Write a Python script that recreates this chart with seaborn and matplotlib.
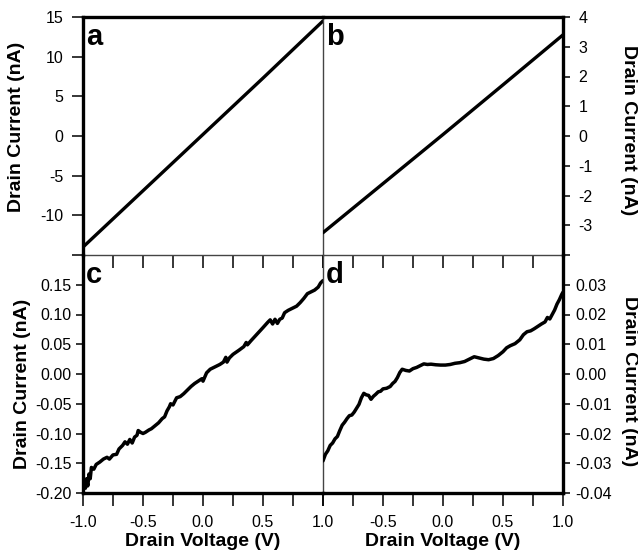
import numpy as np
import pandas as pd
import matplotlib
matplotlib.use('Agg')
import matplotlib.pyplot as plt
import seaborn as sns

# panel a / b: straight I-V traces
volt_a = [-1.0, -0.5, 0.0, 0.5, 1.0]
curr_a = [-14.0, -6.9, 0.2, 7.3, 14.5]
volt_b = [-1.0, -0.5, 0.0, 0.5, 1.0]
curr_b = [-3.25, -1.6, 0.05, 1.72, 3.40]

# panel c: noisy, nearly linear
volt_c = [-1.00, -0.99, -0.98, -0.97, -0.96, -0.95, -0.94, -0.93, -0.91, -0.89,
          -0.86, -0.83, -0.80, -0.78, -0.75, -0.72, -0.70, -0.67, -0.65, -0.63,
          -0.61, -0.59, -0.57, -0.55, -0.54, -0.52, -0.50, -0.48, -0.45, -0.43,
          -0.40, -0.37, -0.34, -0.32, -0.30, -0.28, -0.27, -0.25, -0.22, -0.19,
          -0.16, -0.13, -0.10, -0.07, -0.04, -0.01, 0.00, 0.03, 0.06, 0.10,
          0.14, 0.17, 0.19, 0.20, 0.22, 0.25, 0.30, 0.34, 0.36, 0.37,
          0.40, 0.45, 0.50, 0.54, 0.56, 0.58, 0.60, 0.62, 0.64, 0.66,
          0.68, 0.71, 0.74, 0.78, 0.81, 0.84, 0.87, 0.90, 0.93, 0.96,
          0.98, 1.00]
curr_c = [-0.185, -0.178, -0.192, -0.176, -0.188, -0.168, -0.176, -0.157, -0.160, -0.152,
          -0.148, -0.143, -0.140, -0.143, -0.136, -0.135, -0.126, -0.120, -0.114, -0.118,
          -0.110, -0.116, -0.106, -0.103, -0.095, -0.098, -0.100, -0.098, -0.094, -0.092,
          -0.087, -0.082, -0.075, -0.072, -0.062, -0.055, -0.050, -0.052, -0.040, -0.038,
          -0.033, -0.027, -0.021, -0.016, -0.012, -0.008, -0.012, 0.002, 0.008, 0.012,
          0.016, 0.020, 0.028, 0.020, 0.027, 0.033, 0.040, 0.046, 0.053, 0.049,
          0.056, 0.067, 0.078, 0.087, 0.091, 0.084, 0.092, 0.085, 0.092, 0.094,
          0.103, 0.107, 0.110, 0.114, 0.120, 0.127, 0.135, 0.138, 0.141, 0.146,
          0.153, 0.157]

# panel d: noisy, nonlinear with plateau
volt_d = [-1.00, -0.98, -0.96, -0.94, -0.92, -0.90, -0.88, -0.86, -0.84, -0.82,
          -0.80, -0.78, -0.76, -0.74, -0.72, -0.70, -0.68, -0.66, -0.64, -0.62,
          -0.60, -0.58, -0.56, -0.54, -0.52, -0.50, -0.47, -0.44, -0.42, -0.40,
          -0.38, -0.36, -0.34, -0.31, -0.28, -0.25, -0.22, -0.19, -0.16, -0.13,
          -0.10, -0.06, -0.02, 0.02, 0.06, 0.10, 0.14, 0.18, 0.22, 0.26,
          0.30, 0.34, 0.38, 0.42, 0.46, 0.50, 0.53, 0.56, 0.60, 0.64,
          0.67, 0.70, 0.73, 0.76, 0.79, 0.82, 0.85, 0.87, 0.89, 0.91,
          0.93, 0.95, 0.97, 0.99, 1.00]
curr_d = [-0.0292, -0.0270, -0.0258, -0.0240, -0.0232, -0.0218, -0.0210, -0.0190, -0.0172, -0.0162,
          -0.0150, -0.0140, -0.0138, -0.0128, -0.0115, -0.0102, -0.0080, -0.0065, -0.0070, -0.0072,
          -0.0085, -0.0075, -0.0068, -0.0060, -0.0058, -0.0050, -0.0048, -0.0042, -0.0032, -0.0025,
          -0.0012, 0.0005, 0.0016, 0.0012, 0.0010, 0.0018, 0.0022, 0.0028, 0.0034, 0.0032,
          0.0033, 0.0031, 0.0030, 0.0030, 0.0032, 0.0036, 0.0038, 0.0042, 0.0050, 0.0058,
          0.0054, 0.0050, 0.0048, 0.0052, 0.0062, 0.0075, 0.0088, 0.0095, 0.0102, 0.0115,
          0.0132, 0.0142, 0.0145, 0.0152, 0.0160, 0.0168, 0.0175, 0.0190, 0.0185, 0.0200,
          0.0215, 0.0235, 0.0250, 0.0268, 0.0275]

yticks_a = [-15, -10, -5, 0, 5, 10, 15]
ylabels_a = ['', '-10', '-5', '0', '5', '10', '15']
yticks_b = [-4, -3, -2, -1, 0, 1, 2, 3, 4]
ylabels_b = ['', '-3', '-2', '-1', '0', '1', '2', '3', '4']
yticks_c = [-0.20, -0.15, -0.10, -0.05, 0.00, 0.05, 0.10, 0.15]
ylabels_c = ['-0.20', '-0.15', '-0.10', '-0.05', '0.00', '0.05', '0.10', '0.15']
yticks_d = [-0.04, -0.03, -0.02, -0.01, 0.00, 0.01, 0.02, 0.03]
ylabels_d = ['-0.04', '-0.03', '-0.02', '-0.01', '0.00', '0.01', '0.02', '0.03']
xticks = [-1.0, -0.75, -0.5, -0.25, 0.0, 0.25, 0.5, 0.75, 1.0]
xlabels_left = ['-1.0', '', '-0.5', '', '0.0', '', '0.5', '', '1.0']
xlabels_right = ['', '', '-0.5', '', '0.0', '', '0.5', '', '1.0']

sns.set_theme(style='ticks')
plt.rcParams['font.family'] = ['Liberation Sans', 'DejaVu Sans']
plt.rcParams['text.color'] = 'black'
plt.rcParams['xtick.color'] = 'black'
plt.rcParams['ytick.color'] = 'black'
plt.rcParams['xtick.labelcolor'] = 'black'
plt.rcParams['ytick.labelcolor'] = 'black'

fig = plt.figure(figsize=(6.38, 5.51), dpi=100)
L, M, R = 83 / 638, 323 / 638, 563 / 638
T, H, B = 1 - 17 / 551, 1 - 255 / 551, 1 - 493 / 551
ax_a = fig.add_axes([L, H, M - L, T - H])
ax_b = fig.add_axes([M, H, R - M, T - H])
ax_c = fig.add_axes([L, B, M - L, H - B])
ax_d = fig.add_axes([M, B, R - M, H - B])

panels = [
    (ax_a, volt_a, curr_a, (-15, 15), yticks_a, ylabels_a, 'a', 2.4),
    (ax_b, volt_b, curr_b, (-4, 4), yticks_b, ylabels_b, 'b', 2.4),
    (ax_c, volt_c, curr_c, (-0.2, 0.2), yticks_c, ylabels_c, 'c', 2.5),
    (ax_d, volt_d, curr_d, (-0.04, 0.04), yticks_d, ylabels_d, 'd', 2.5),
]

tick_fs = 11.5
thick, thin = 2.4, 1.0
for ax, x, y, ylim, yt, yl, letter, lw in panels:
    ax.set_facecolor('none')
    sns.lineplot(x=x, y=y, ax=ax, color='black', lw=lw, sort=False, estimator=None)
    ax.set_xlim(-1, 1)
    ax.set_ylim(*ylim)
    ax.set_yticks(yt)
    ax.set_yticklabels(yl, fontsize=tick_fs)
    ax.set_xticks(xticks)
    ax.set_xlabel('')
    ax.set_ylabel('')
    ax.text(0.012, 0.975, letter, transform=ax.transAxes, fontsize=21,
            fontweight='bold', ha='left', va='top')
    for s in ax.spines.values():
        s.set_color('black')
        s.set_linewidth(thin)
        s.set_zorder(5)
    ax.tick_params(axis='x', direction='out', length=9, width=1.1, color='black')
    ax.tick_params(axis='y', direction='out', width=1.1, color='black')

# top row
for ax in (ax_a, ax_b):
    ax.spines['top'].set_linewidth(thick)
    ax.tick_params(axis='x', labelbottom=False)
    ax.spines['bottom'].set_color('#444444')
ax_a.spines['right'].set_color('#444444')
ax_b.spines['left'].set_visible(False)
# bottom row
for ax, labs in ((ax_c, xlabels_left), (ax_d, xlabels_right)):
    ax.spines['bottom'].set_linewidth(thick)
    ax.spines['top'].set_visible(False)
    ax.set_xticklabels(labs, fontsize=tick_fs)
    ax.tick_params(axis='x', pad=7)
    ax.text(0.5, -0.205, 'Drain Voltage (V)', transform=ax.transAxes, fontsize=14,
            fontweight='bold', ha='center', va='center')
ax_c.spines['right'].set_color('#444444')
ax_d.spines['left'].set_visible(False)

# left column
ax_a.spines['left'].set_linewidth(thick)
ax_c.spines['left'].set_linewidth(thick)
ax_a.tick_params(axis='y', length=8, pad=6)
ax_c.tick_params(axis='y', length=5, pad=3)
ax_a.text(-0.279, 0.54, 'Drain Current (nA)', transform=ax_a.transAxes, fontsize=14,
          fontweight='bold', rotation=90, ha='center', va='center')
ax_c.text(-0.254, 0.46, 'Drain Current (nA)', transform=ax_c.transAxes, fontsize=14,
          fontweight='bold', rotation=90, ha='center', va='center')

# right column
for ax in (ax_b, ax_d):
    ax.yaxis.tick_right()
    ax.spines['right'].set_linewidth(thick)
ax_b.tick_params(axis='y', length=5, pad=6)
ax_d.tick_params(axis='y', length=5, pad=4)
ax_b.text(1.275, 0.525, 'Drain Current (nA)', transform=ax_b.transAxes, fontsize=14,
          fontweight='bold', rotation=270, ha='center', va='center')
ax_d.text(1.279, 0.47, 'Drain Current (nA)', transform=ax_d.transAxes, fontsize=14,
          fontweight='bold', rotation=270, ha='center', va='center')

fig.savefig('out.png', dpi=100)
